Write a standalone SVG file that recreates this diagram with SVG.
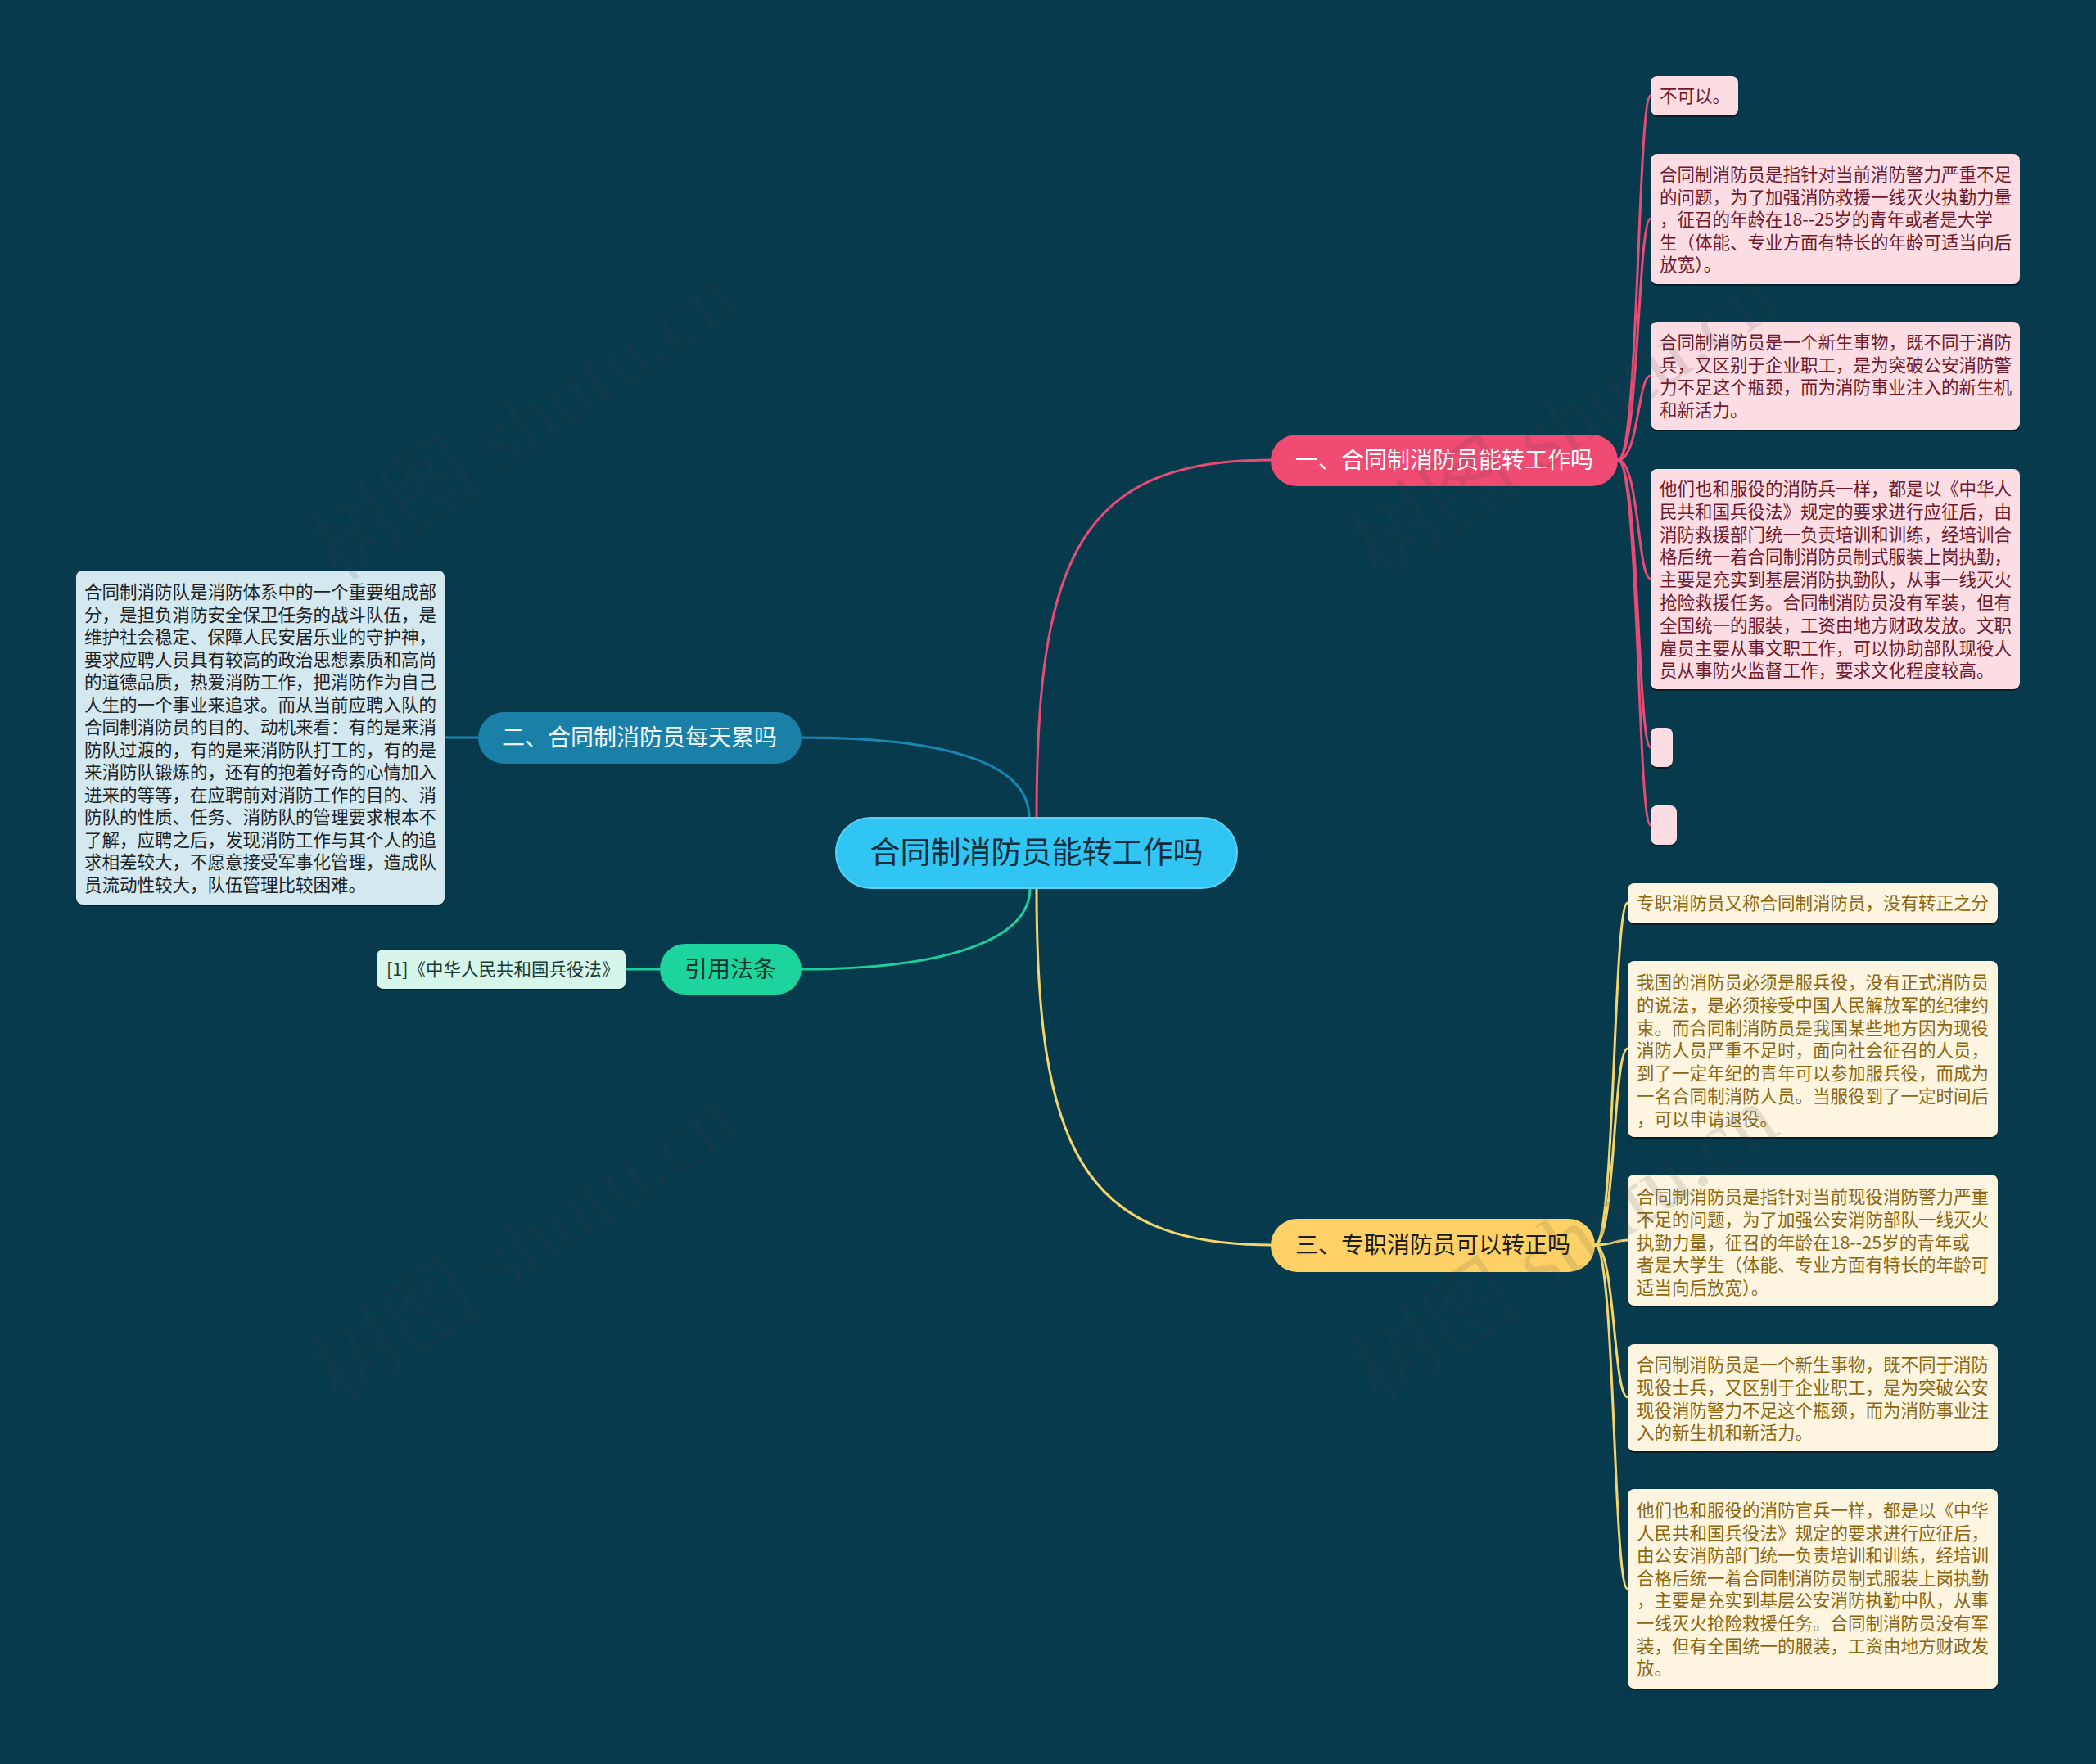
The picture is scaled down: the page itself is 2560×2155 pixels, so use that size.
<svg xmlns="http://www.w3.org/2000/svg" width="2560" height="2155" viewBox="0 0 2560 2155">
<defs>
<style>
text{font-family:"Noto Sans CJK SC","Noto Sans",sans-serif}
.t{font-size:21.5px}
.pinkT{fill:#6e1a2c}
.yelT{fill:#8c6612}
.blueT{fill:#1c2226}
.mintT{fill:#1d3a33}
.pinkB{fill:#fcdde3}
.yelB{fill:#fdf5df}
.blueB{fill:#d3e8ef}
.mintB{fill:#d6f6ec}
.sh{fill:#04202b}
.lab{font-size:28px;text-anchor:middle}
.c{fill:none;stroke-width:3;stroke-linecap:round}
.wm{font-size:106px;fill:#3c3c3c;fill-opacity:0.13;font-family:"Liberation Serif","Noto Sans CJK SC",serif}
</style>
</defs>
<rect width="2560" height="2155" fill="#083a4d"/>

<g id="connectors">
  <path class="c" stroke="#e94a76" d="M1266 999 C1266 680 1320 562 1552 562"/>
  <path class="c" stroke="#1a86b1" d="M1257 999 C1257 930 1150 901 979 901"/>
  <path class="c" stroke="#1a86b1" d="M584 901 L543 901"/>
  <path class="c" stroke="#1fcf9b" d="M1258 1085 C1258 1150 1150 1184 979 1184"/>
  <path class="c" stroke="#1fcf9b" d="M806 1184 L764 1184"/>
  <path class="c" stroke="#f4d46c" d="M1266 1085 C1266 1400 1320 1521 1552 1521"/>
  <g stroke="#e94a76">
    <path class="c" d="M1976 562 C2002 562 2000 117 2016 117"/>
    <path class="c" d="M1976 562 C2002 562 2000 267 2016 267"/>
    <path class="c" d="M1976 562 C2002 562 2000 459 2016 459"/>
    <path class="c" d="M1976 562 C2002 562 2000 707 2016 707"/>
    <path class="c" d="M1976 562 C2002 562 2000 913 2016 913"/>
    <path class="c" d="M1976 562 C2002 562 2000 1008 2016 1008"/>
  </g>
  <g stroke="#f4d46c">
    <path class="c" d="M1948 1521 C1973 1521 1970 1103 1988 1103"/>
    <path class="c" d="M1948 1521 C1973 1521 1970 1281 1988 1281"/>
    <path class="c" d="M1948 1521 C1973 1521 1970 1515 1988 1515"/>
    <path class="c" d="M1948 1521 C1973 1521 1970 1707 1988 1707"/>
    <path class="c" d="M1948 1521 C1973 1521 1970 1941 1988 1941"/>
  </g>
</g>

<g id="root">
  <rect x="1021" y="999" width="490" height="86" rx="43" fill="#31c5f4" stroke="#5ad3f7" stroke-width="2"/>
  <text x="1266" y="1055" style="font-size:37px;text-anchor:middle" fill="#0f2d3b">合同制消防员能转工作吗</text>
</g>

<g id="b1">
  <rect x="1552" y="531" width="424" height="63" rx="31.5" fill="#ef4b73"/>
  <text class="lab" x="1764" y="572" fill="#ffffff">一、合同制消防员能转工作吗</text>
</g>
<g id="b2">
  <rect x="584" y="870" width="395" height="63" rx="31.5" fill="#1a80a8"/>
  <text class="lab" x="781" y="911" fill="#eef7fb">二、合同制消防员每天累吗</text>
</g>
<g id="b3">
  <rect x="806" y="1153" width="173" height="62" rx="31" fill="#1dd49d"/>
  <text class="lab" x="892" y="1194" fill="#0d3a30">引用法条</text>
</g>
<g id="b4">
  <rect x="1552" y="1489" width="396" height="65" rx="32.5" fill="#fdd166"/>
  <text class="lab" x="1750" y="1531" fill="#1d1d1d">三、专职消防员可以转正吗</text>
</g>

<g id="n2a">
  <rect class="sh" x="93" y="699" width="450" height="408" rx="8"/>
  <rect class="blueB" x="93" y="697" width="450" height="408" rx="8"/>
  <text class="t blueT">
    <tspan x="103" y="731">合同制消防队是消防体系中的一个重要组成部</tspan>
    <tspan x="103" dy="27.5">分，是担负消防安全保卫任务的战斗队伍，是</tspan>
    <tspan x="103" dy="27.5">维护社会稳定、保障人民安居乐业的守护神，</tspan>
    <tspan x="103" dy="27.5">要求应聘人员具有较高的政治思想素质和高尚</tspan>
    <tspan x="103" dy="27.5">的道德品质，热爱消防工作，把消防作为自己</tspan>
    <tspan x="103" dy="27.5">人生的一个事业来追求。而从当前应聘入队的</tspan>
    <tspan x="103" dy="27.5">合同制消防员的目的、动机来看：有的是来消</tspan>
    <tspan x="103" dy="27.5">防队过渡的，有的是来消防队打工的，有的是</tspan>
    <tspan x="103" dy="27.5">来消防队锻炼的，还有的抱着好奇的心情加入</tspan>
    <tspan x="103" dy="27.5">进来的等等，在应聘前对消防工作的目的、消</tspan>
    <tspan x="103" dy="27.5">防队的性质、任务、消防队的管理要求根本不</tspan>
    <tspan x="103" dy="27.5">了解，应聘之后，发现消防工作与其个人的追</tspan>
    <tspan x="103" dy="27.5">求相差较大，不愿意接受军事化管理，造成队</tspan>
    <tspan x="103" dy="27.5">员流动性较大，队伍管理比较困难。</tspan>
  </text>
</g>

<g id="n3a">
  <rect class="sh" x="460" y="1162" width="304" height="48" rx="8"/>
  <rect class="mintB" x="460" y="1160" width="304" height="48" rx="8"/>
  <text class="t mintT" x="472" y="1192">[1]《中华人民共和国兵役法》</text>
</g>

<g id="n1a">
  <rect class="sh" x="2016" y="95" width="107" height="48" rx="8"/>
  <rect class="pinkB" x="2016" y="93" width="107" height="48" rx="8"/>
  <text class="t pinkT" x="2027" y="125">不可以。</text>
</g>
<g id="n1b">
  <rect class="sh" x="2016" y="190" width="451" height="159" rx="8"/>
  <rect class="pinkB" x="2016" y="188" width="451" height="159" rx="8"/>
  <text class="t pinkT">
    <tspan x="2027" y="221">合同制消防员是指针对当前消防警力严重不足</tspan>
    <tspan x="2027" dy="27.5">的问题，为了加强消防救援一线灭火执勤力量</tspan>
    <tspan x="2027" dy="27.5">，征召的年龄在18--25岁的青年或者是大学</tspan>
    <tspan x="2027" dy="27.5">生（体能、专业方面有特长的年龄可适当向后</tspan>
    <tspan x="2027" dy="27.5">放宽）。</tspan>
  </text>
</g>
<g id="n1c">
  <rect class="sh" x="2016" y="395" width="451" height="132" rx="8"/>
  <rect class="pinkB" x="2016" y="393" width="451" height="132" rx="8"/>
  <text class="t pinkT">
    <tspan x="2027" y="426">合同制消防员是一个新生事物，既不同于消防</tspan>
    <tspan x="2027" dy="27.5">兵，又区别于企业职工，是为突破公安消防警</tspan>
    <tspan x="2027" dy="27.5">力不足这个瓶颈，而为消防事业注入的新生机</tspan>
    <tspan x="2027" dy="27.5">和新活力。</tspan>
  </text>
</g>
<g id="n1d">
  <rect class="sh" x="2016" y="575" width="451" height="269" rx="8"/>
  <rect class="pinkB" x="2016" y="573" width="451" height="269" rx="8"/>
  <text class="t pinkT">
    <tspan x="2027" y="605">他们也和服役的消防兵一样，都是以《中华人</tspan>
    <tspan x="2027" dy="27.8">民共和国兵役法》规定的要求进行应征后，由</tspan>
    <tspan x="2027" dy="27.8">消防救援部门统一负责培训和训练，经培训合</tspan>
    <tspan x="2027" dy="27.8">格后统一着合同制消防员制式服装上岗执勤，</tspan>
    <tspan x="2027" dy="27.8">主要是充实到基层消防执勤队，从事一线灭火</tspan>
    <tspan x="2027" dy="27.8">抢险救援任务。合同制消防员没有军装，但有</tspan>
    <tspan x="2027" dy="27.8">全国统一的服装，工资由地方财政发放。文职</tspan>
    <tspan x="2027" dy="27.8">雇员主要从事文职工作，可以协助部队现役人</tspan>
    <tspan x="2027" dy="27.8">员从事防火监督工作，要求文化程度较高。</tspan>
  </text>
</g>
<g id="n1e">
  <rect class="sh" x="2016" y="891" width="27" height="48" rx="8"/>
  <rect class="pinkB" x="2016" y="889" width="27" height="48" rx="8"/>
</g>
<g id="n1f">
  <rect class="sh" x="2016" y="986" width="32" height="48" rx="8"/>
  <rect class="pinkB" x="2016" y="984" width="32" height="48" rx="8"/>
</g>

<g id="n4a">
  <rect class="sh" x="1988" y="1081" width="452" height="49" rx="8"/>
  <rect class="yelB" x="1988" y="1079" width="452" height="49" rx="8"/>
  <text class="t yelT" x="1999" y="1111">专职消防员又称合同制消防员，没有转正之分</text>
</g>
<g id="n4b">
  <rect class="sh" x="1988" y="1176" width="452" height="215" rx="8"/>
  <rect class="yelB" x="1988" y="1174" width="452" height="215" rx="8"/>
  <text class="t yelT">
    <tspan x="1999" y="1208">我国的消防员必须是服兵役，没有正式消防员</tspan>
    <tspan x="1999" dy="27.8">的说法，是必须接受中国人民解放军的纪律约</tspan>
    <tspan x="1999" dy="27.8">束。而合同制消防员是我国某些地方因为现役</tspan>
    <tspan x="1999" dy="27.8">消防人员严重不足时，面向社会征召的人员，</tspan>
    <tspan x="1999" dy="27.8">到了一定年纪的青年可以参加服兵役，而成为</tspan>
    <tspan x="1999" dy="27.8">一名合同制消防人员。当服役到了一定时间后</tspan>
    <tspan x="1999" dy="27.8">，可以申请退役。</tspan>
  </text>
</g>
<g id="n4c">
  <rect class="sh" x="1988" y="1437" width="452" height="160" rx="8"/>
  <rect class="yelB" x="1988" y="1435" width="452" height="160" rx="8"/>
  <text class="t yelT">
    <tspan x="1999" y="1470">合同制消防员是指针对当前现役消防警力严重</tspan>
    <tspan x="1999" dy="27.8">不足的问题，为了加强公安消防部队一线灭火</tspan>
    <tspan x="1999" dy="27.8">执勤力量，征召的年龄在18--25岁的青年或</tspan>
    <tspan x="1999" dy="27.8">者是大学生（体能、专业方面有特长的年龄可</tspan>
    <tspan x="1999" dy="27.8">适当向后放宽）。</tspan>
  </text>
</g>
<g id="n4d">
  <rect class="sh" x="1988" y="1644" width="452" height="131" rx="8"/>
  <rect class="yelB" x="1988" y="1642" width="452" height="131" rx="8"/>
  <text class="t yelT">
    <tspan x="1999" y="1675">合同制消防员是一个新生事物，既不同于消防</tspan>
    <tspan x="1999" dy="27.8">现役士兵，又区别于企业职工，是为突破公安</tspan>
    <tspan x="1999" dy="27.8">现役消防警力不足这个瓶颈，而为消防事业注</tspan>
    <tspan x="1999" dy="27.8">入的新生机和新活力。</tspan>
  </text>
</g>
<g id="n4e">
  <rect class="sh" x="1988" y="1821" width="452" height="244" rx="8"/>
  <rect class="yelB" x="1988" y="1819" width="452" height="244" rx="8"/>
  <text class="t yelT">
    <tspan x="1999" y="1853">他们也和服役的消防官兵一样，都是以《中华</tspan>
    <tspan x="1999" dy="27.6">人民共和国兵役法》规定的要求进行应征后，</tspan>
    <tspan x="1999" dy="27.6">由公安消防部门统一负责培训和训练，经培训</tspan>
    <tspan x="1999" dy="27.6">合格后统一着合同制消防员制式服装上岗执勤</tspan>
    <tspan x="1999" dy="27.6">，主要是充实到基层公安消防执勤中队，从事</tspan>
    <tspan x="1999" dy="27.6">一线灭火抢险救援任务。合同制消防员没有军</tspan>
    <tspan x="1999" dy="27.6">装，但有全国统一的服装，工资由地方财政发</tspan>
    <tspan x="1999" dy="27.6">放。</tspan>
  </text>
</g>

<g id="watermarks" text-anchor="middle">
  <text class="wm" transform="translate(660 545) rotate(-34)">树图 shutu.cn</text>
  <text class="wm" transform="translate(1930 545) rotate(-34)">树图 shutu.cn</text>
  <text class="wm" transform="translate(660 1550) rotate(-34)">树图 shutu.cn</text>
  <text class="wm" transform="translate(1930 1550) rotate(-34)">树图 shutu.cn</text>
</g>
</svg>
